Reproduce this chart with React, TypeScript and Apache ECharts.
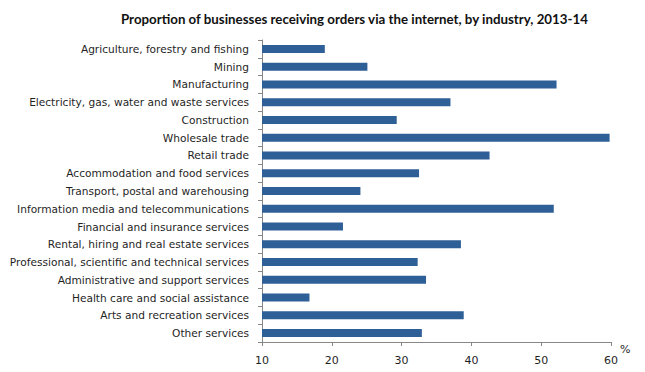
import React, { useEffect, useRef } from "react";
import * as echarts from "echarts";

const categories = [
  "Agriculture, forestry and fishing",
  "Mining",
  "Manufacturing",
  "Electricity, gas, water and waste services",
  "Construction",
  "Wholesale trade",
  "Retail trade",
  "Accommodation and food services",
  "Transport, postal and warehousing",
  "Information media and telecommunications",
  "Financial and insurance services",
  "Rental, hiring and real estate services",
  "Professional, scientific and technical services",
  "Administrative and support services",
  "Health care and social assistance",
  "Arts and recreation services",
  "Other services",
];

const values = [
  19.0, 25.1, 52.2, 37.0, 29.3, 59.8, 42.6, 32.5, 24.1, 51.8, 21.6, 38.5, 32.3,
  33.5, 16.8, 38.9, 32.9,
];

const titleText =
  "Proportion of businesses receiving orders via the internet, by industry, 2013-14";

export default function App() {
  const ref = useRef<HTMLDivElement>(null);
  useEffect(() => {
    if (!ref.current) return;
    const chart = echarts.init(ref.current, undefined, { renderer: "svg" });
    const axisGray = "#878787";
    chart.setOption({
      animation: false,
      backgroundColor: "#ffffff",
      title: {
        text: titleText,
        left: 116,
        top: 7,
        textStyle: {
          fontFamily: "Lato, 'Open Sans', sans-serif",
          fontWeight: "bold",
          fontSize: 13.3,
          color: "#111111",
        },
      },
      grid: { left: 262, right: 34, top: 40, bottom: 30, containLabel: false },
      xAxis: {
        type: "value",
        min: 10,
        max: 60,
        interval: 10,
        name: "%",
        nameLocation: "end",
        nameGap: 9,
        nameTextStyle: {
          fontFamily: "'DejaVu Sans', sans-serif",
          fontSize: 11,
          color: "#1f1f1f",
          verticalAlign: "top",
          padding: [2, 0, 0, 0],
        },
        axisLine: { show: true, lineStyle: { color: axisGray, width: 1 } },
        axisTick: { show: true, length: 4, lineStyle: { color: axisGray } },
        splitLine: { show: false },
        axisLabel: {
          fontFamily: "'DejaVu Sans', sans-serif",
          fontSize: 11,
          color: "#1f1f1f",
          margin: 13,
        },
      },
      yAxis: {
        type: "category",
        data: categories,
        inverse: true,
        axisLine: { show: true, lineStyle: { color: axisGray, width: 1 } },
        axisTick: { show: true, length: 4, lineStyle: { color: axisGray } },
        axisLabel: {
          fontFamily: "'DejaVu Sans', sans-serif",
          fontSize: 10.6,
          color: "#1f1f1f",
          margin: 13,
        },
      },
      series: [
        {
          type: "bar",
          data: values,
          barWidth: 8,
          itemStyle: { color: "#2F5F97" },
        },
      ],
    });
    return () => chart.dispose();
  }, []);
  return <div ref={ref} style={{ width: 645, height: 372, position: "absolute", left: 0, top: 0 }} />;
}
